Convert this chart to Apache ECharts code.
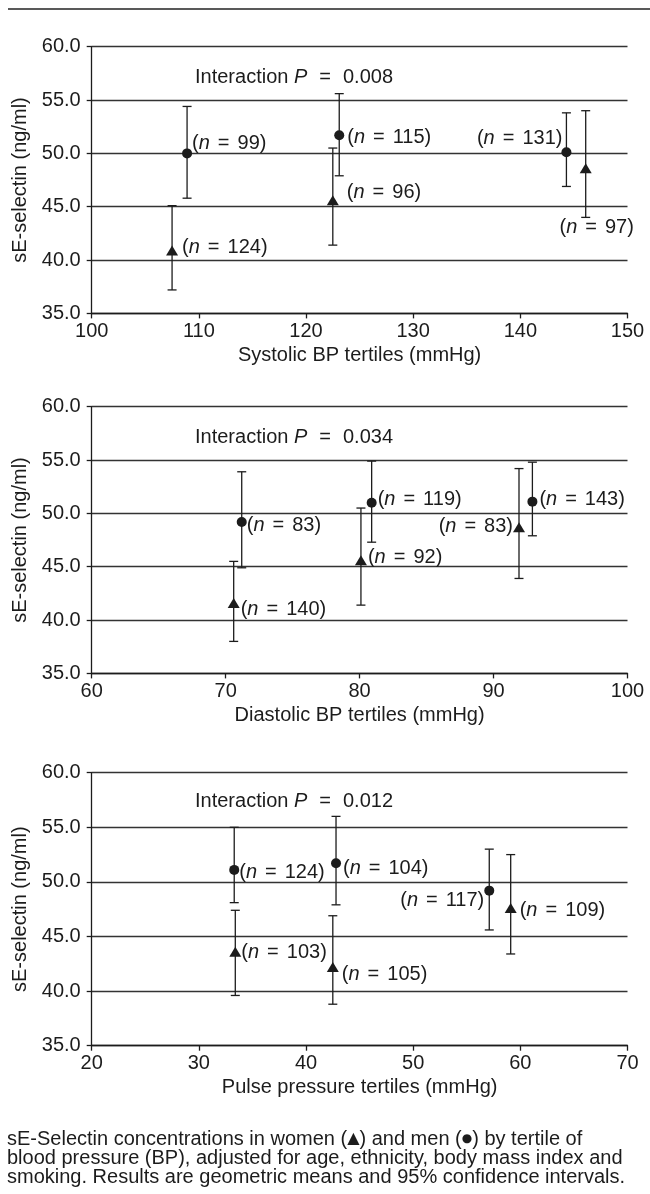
<!DOCTYPE html>
<html><head><meta charset="utf-8">
<script src="https://cdn.jsdelivr.net/npm/echarts@6/dist/echarts.min.js"></script>
<style>html,body{margin:0;padding:0;background:#fff}#c{width:650px;height:1194px}</style>
</head><body><div id="c"></div>
<script>
// ---------- data ----------
const panelNames = ['Systolic BP tertiles (mmHg)', 'Diastolic BP tertiles (mmHg)', 'Pulse pressure tertiles (mmHg)'];
const interactionP = ['0.008', '0.034', '0.012'];
const xMin = [100, 60, 20];
const xMax = [150, 100, 70];
const yMin = 35, yMax = 60, yStep = 5, xStep = 10;

// Systolic
const sysWomenX = [107.5, 122.5, 146.1];
const sysWomenY = [40.9, 45.6, 48.6];
const sysWomenLo = [37.2, 41.4, 44.0];
const sysWomenHi = [45.1, 50.5, 54.0];
const sysWomenN = [124, 96, 97];
const sysMenX = [108.9, 123.1, 144.3];
const sysMenY = [50.0, 51.7, 50.1];
const sysMenLo = [45.8, 47.9, 46.9];
const sysMenHi = [54.4, 55.6, 53.8];
const sysMenN = [99, 115, 131];
// Diastolic
const diaWomenX = [70.6, 80.1, 91.9];
const diaWomenY = [41.6, 45.6, 48.7];
const diaWomenLo = [38.0, 41.4, 43.9];
const diaWomenHi = [45.5, 50.5, 54.2];
const diaWomenN = [140, 92, 83];
const diaMenX = [71.2, 80.9, 92.9];
const diaMenY = [49.2, 51.0, 51.1];
const diaMenLo = [44.9, 47.3, 47.9];
const diaMenHi = [53.9, 54.9, 54.8];
const diaMenN = [83, 119, 143];
// Pulse pressure
const ppWomenX = [33.4, 42.5, 59.1];
const ppWomenY = [43.6, 42.2, 47.6];
const ppWomenLo = [39.6, 38.8, 43.4];
const ppWomenHi = [47.4, 46.9, 52.5];
const ppWomenN = [103, 105, 109];
const ppMenX = [33.3, 42.8, 57.1];
const ppMenY = [51.1, 51.7, 49.2];
const ppMenLo = [48.1, 47.9, 45.6];
const ppMenHi = [55.0, 56.0, 53.0];
const ppMenN = [124, 104, 117];

const captionLines = [
  ['sE-Selectin concentrations in women (', '▲', ') and men (', '●', ') by tertile of'],
  ['blood pressure (BP), adjusted for age, ethnicity, body mass index and'],
  ['smoking. Results are geometric means and 95% confidence intervals.']
];

// ---------- styling (label placement per point) ----------
const labelPlace = {
  sysWomen: [['right', [4, -3]], ['right', [8, -8]], ['bottom', [11, 44]]],
  sysMen:   [['right', [0, -10]], ['right', [3, 2]], ['left', [1, -14]]],
  diaWomen: [['right', [1, 6]], ['right', [1, -3]], ['left', [0, -1]]],
  diaMen:   [['right', [0, 4]], ['right', [1, -3]], ['right', [2, -2]]],
  ppWomen:  [['right', [0, 1]], ['right', [3, 7]], ['right', [3, 2]]],
  ppMen:    [['right', [0, 3]], ['right', [2, 5]], ['left', [0, 10]]]
};

const FONT = "'Liberation Sans', Arial, Helvetica, sans-serif";
const INK = '#1c1c1c';
const FS = 20;

const panels = [
  {women: [sysWomenX, sysWomenY, sysWomenLo, sysWomenHi, sysWomenN], men: [sysMenX, sysMenY, sysMenLo, sysMenHi, sysMenN], wk: 'sysWomen', mk: 'sysMen'},
  {women: [diaWomenX, diaWomenY, diaWomenLo, diaWomenHi, diaWomenN], men: [diaMenX, diaMenY, diaMenLo, diaMenHi, diaMenN], wk: 'diaWomen', mk: 'diaMen'},
  {women: [ppWomenX, ppWomenY, ppWomenLo, ppWomenHi, ppWomenN], men: [ppMenX, ppMenY, ppMenLo, ppMenHi, ppMenN], wk: 'ppWomen', mk: 'ppMen'}
];

const gridTops = [46.7, 406.7, 772.7];
const gridHeights = [266.7, 266.7, 273];

const richLabel = {
  p: {fontFamily: FONT, fontSize: FS, color: INK},
  i: {fontFamily: FONT, fontSize: FS, color: INK, fontStyle: 'italic'},
  e: {fontFamily: FONT, fontSize: FS, color: INK, padding: [0, 8, 0, 8]}
};

function renderErr(params, api) {
  const x = api.value(0), lo = api.value(1), hi = api.value(2);
  const a = api.coord([x, lo]), b = api.coord([x, hi]);
  const w = 4.5;
  const st = {stroke: INK, lineWidth: 1.3};
  return {type: 'group', children: [
    {type: 'line', shape: {x1: a[0], y1: a[1], x2: b[0], y2: b[1]}, style: st},
    {type: 'line', shape: {x1: a[0] - w, y1: a[1], x2: a[0] + w, y2: a[1]}, style: st},
    {type: 'line', shape: {x1: b[0] - w, y1: b[1], x2: b[0] + w, y2: b[1]}, style: st}
  ]};
}

const grid = [], xAxis = [], yAxis = [], series = [];
panels.forEach((pn, k) => {
  grid.push({left: 91.7, right: 22.5, top: gridTops[k], height: gridHeights[k]});
  xAxis.push({
    type: 'value', gridIndex: k, min: xMin[k], max: xMax[k], interval: xStep,
    name: panelNames[k], nameLocation: 'middle', nameGap: 32,
    nameTextStyle: {fontFamily: FONT, fontSize: FS, color: INK},
    axisLine: {lineStyle: {color: INK, width: 1.3}},
    axisTick: {show: true, inside: false, length: 5, lineStyle: {color: INK, width: 1.3}},
    axisLabel: {fontFamily: FONT, fontSize: FS, color: INK, margin: 8},
    splitLine: {show: false}
  });
  yAxis.push({
    type: 'value', gridIndex: k, min: yMin, max: yMax, interval: yStep,
    name: 'sE-selectin (ng/ml)', nameLocation: 'middle', nameGap: 54, nameRotate: 90,
    nameTextStyle: {fontFamily: FONT, fontSize: FS, color: INK},
    axisLine: {show: true, lineStyle: {color: INK, width: 1.3}},
    axisTick: {show: true, inside: false, length: 5, lineStyle: {color: INK, width: 1.3}},
    axisLabel: {fontFamily: FONT, fontSize: FS, color: INK, margin: 11, formatter: v => v.toFixed(1)},
    splitLine: {show: true, lineStyle: {color: '#333', width: 1.3}}
  });
  [['women', 'triangle', [12, 10], pn.wk], ['men', 'circle', 10, pn.mk]].forEach(([key, sym, size, lk]) => {
    const [xs, ys, los, his, ns] = pn[key];
    series.push({
      type: 'custom', xAxisIndex: k, yAxisIndex: k, renderItem: renderErr,
      encode: {x: 0, y: [1, 2]}, z: 2, silent: true,
      data: xs.map((x, i) => [x, los[i], his[i]])
    });
    series.push({
      type: 'scatter', xAxisIndex: k, yAxisIndex: k, symbol: sym, symbolSize: size, z: 3,
      itemStyle: {color: INK, opacity: 1},
      data: xs.map((x, i) => ({
        value: [x, ys[i]],
        label: {
          show: true, position: labelPlace[lk][i][0], offset: labelPlace[lk][i][1], distance: 0,
          formatter: '{p|(}{i|n}{e|=}{p|' + ns[i] + ')}', rich: richLabel
        }
      }))
    });
  });
});

const graphic = [
  {type: 'line', shape: {x1: 8, y1: 9, x2: 650, y2: 9}, style: {stroke: '#222', lineWidth: 1.6}}
];
const interTops = [67.5, 427.5, 791];
interactionP.forEach((p, k) => {
  graphic.push({
    type: 'text', left: 195, top: interTops[k],
    style: {
      text: '{a|Interaction }{i|P}{e|=}{a|' + p + '}',
      rich: {
        a: {fontFamily: FONT, fontSize: FS, fill: INK},
        i: {fontFamily: FONT, fontSize: FS, fill: INK, fontStyle: 'italic'},
        e: {fontFamily: FONT, fontSize: FS, fill: INK, padding: [0, 12, 0, 12]}
      }
    }
  });
});
captionLines.forEach((parts, j) => {
  const txt = parts.map((s) => {
    if (s === '▲') return '{s|' + s + '}';
    if (s === '●') return '{d|' + s + '}';
    return '{t|' + s + '}';
  }).join('');
  graphic.push({
    type: 'text', left: 7, top: 1129 + j * 19,
    style: {
      text: txt,
      rich: {
        t: {fontFamily: FONT, fontSize: 20, fill: INK},
        s: {fontFamily: 'DejaVu Sans', fontSize: 16, fill: INK},
        d: {fontFamily: 'DejaVu Sans', fontSize: 12, fill: INK}
      }
    }
  });
});

const chart = echarts.init(document.getElementById('c'), null, {renderer: 'canvas'});
chart.setOption({
  animation: false, backgroundColor: '#fff',
  grid, xAxis, yAxis, series, graphic
});
</script>
</body></html>
